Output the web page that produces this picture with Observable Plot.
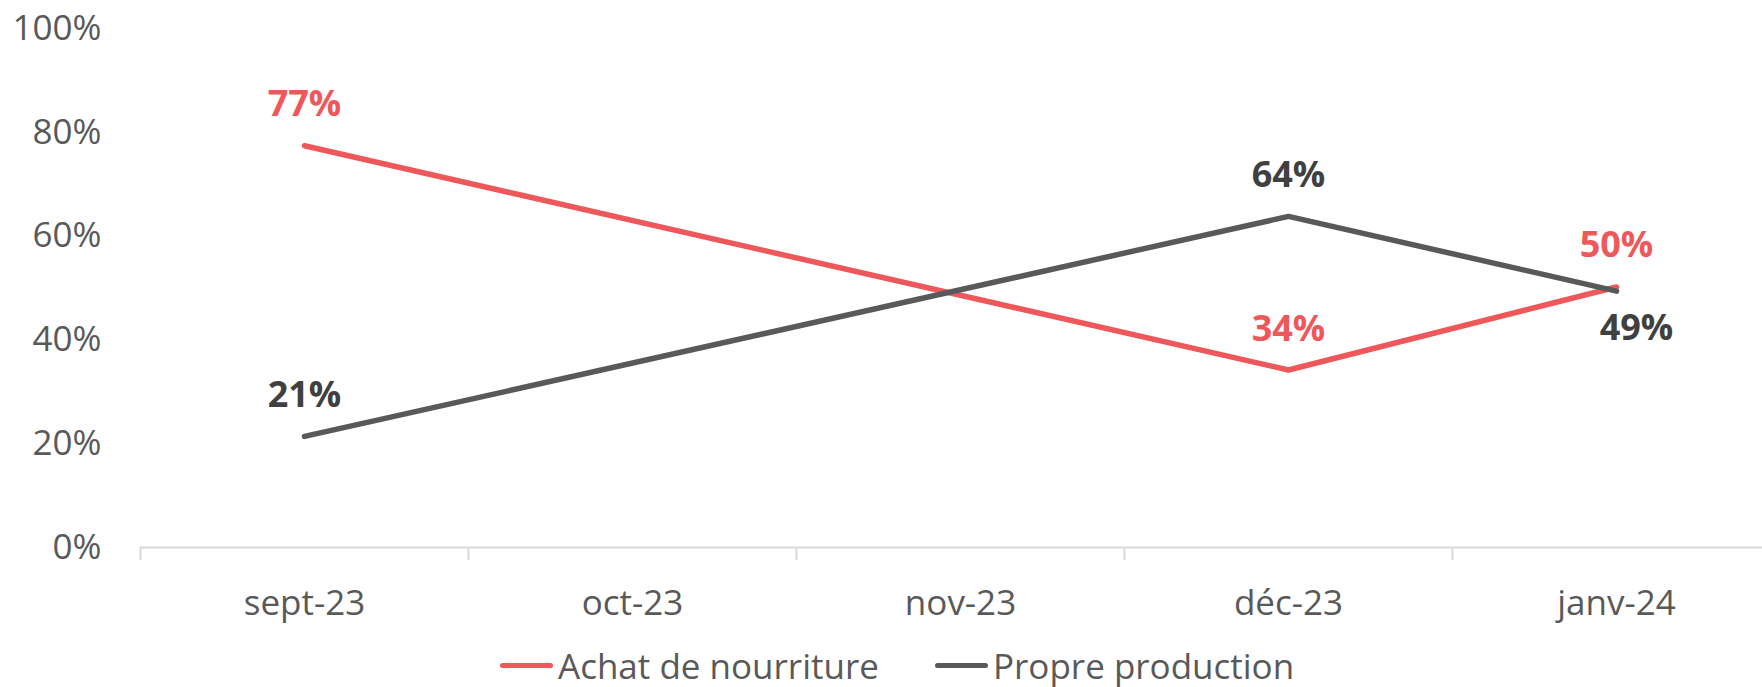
<!DOCTYPE html>
<html>
<head>
<meta charset="utf-8">
<script src="https://cdn.jsdelivr.net/npm/d3@7"></script>
<script src="https://cdn.jsdelivr.net/npm/@observablehq/plot@0.6"></script>
<style>
  html, body { margin: 0; padding: 0; background: #fff; }
  body { width: 1762px; height: 687px; overflow: hidden; font-family: "Open Sans", sans-serif; }
  #legend { position: relative; height: 47px; font-size: 35px; color: #595959; }
  .item { position: absolute; top: 2px; display: flex; align-items: center; height: 47px; }
  .sw { width: 53px; height: 5px; border-radius: 3px; margin-right: 5px; }
</style>
</head>
<body>
<div id="chart"></div>
<div id="legend"></div>
<script>
const months = ["sept-23", "oct-23", "nov-23", "déc-23", "janv-24"];
const achat = [0.774, null, null, 0.342, 0.502];
const propre = [0.214, null, null, 0.638, 0.494];
const seriesNames = ["Achat de nourriture", "Propre production"];
const colors = ["#EF585A", "#59595B"];
const labelColors = ["#EF585A", "#404040"];
const yTicks = [0, 0.2, 0.4, 0.6, 0.8, 1];

const rows = [];
[achat, propre].forEach((vals, s) => {
  vals.forEach((v, i) => {
    if (v != null) rows.push({month: months[i], value: v, series: seriesNames[s], s, i});
  });
});

const W = 1762, H = 640;
const xRange = [140, 1780];
const bw = (xRange[1] - xRange[0]) / months.length;

// label placement: above except last grey point (below, slightly right)
const isBelow = d => d.s === 1 && d.i === 4;
const pct = d3.format(".0%");

const labelMarks = [];
[0, 1].forEach(s => {
  const above = rows.filter(d => d.s === s && !isBelow(d));
  const below = rows.filter(d => d.s === s && isBelow(d));
  const common = {x: "month", y: "value", text: d => pct(d.value), fill: labelColors[s], fontSize: 36, fontWeight: "bold"};
  if (above.length) labelMarks.push(Plot.text(above, {...common, dy: -41}));
  if (below.length) labelMarks.push(Plot.text(below, {...common, dy: 37, dx: 20}));
});

const plot = Plot.plot({
  width: W,
  height: H,
  marginLeft: 140,
  marginRight: 0,
  marginTop: 28,
  marginBottom: 93,
  style: {fontFamily: "'Open Sans', sans-serif", background: "#fff", overflow: "hidden"},
  x: {type: "band", domain: months, range: xRange, padding: 0},
  y: {domain: [0, 1]},
  color: {domain: seriesNames, range: colors},
  marks: [
    Plot.ruleY([0], {stroke: "#D9D9D9", strokeWidth: 2}),
    Plot.ruleX(months, {x: d => d, y1: 0, y2: 0, dx: -bw / 2, insetBottom: -13, stroke: "#D9D9D9", strokeWidth: 2}),
    Plot.axisY({ticks: yTicks, tickFormat: pct, tickSize: 0, tickPadding: 39, fontSize: 35, color: "#595959", label: null}),
    Plot.axisX({tickSize: 0, tickPadding: 43, fontSize: 35, color: "#595959", label: null}),
    Plot.line(rows, {x: "month", y: "value", z: "series", stroke: "series", strokeWidth: 5.5, strokeLinecap: "round", strokeLinejoin: "miter"}),
    ...labelMarks
  ]
});
document.getElementById("chart").appendChild(plot);

const legend = document.getElementById("legend");
const legendX = [500, 935];
seriesNames.forEach((name, s) => {
  const it = document.createElement("div");
  it.className = "item";
  it.style.left = legendX[s] + "px";
  const sw = document.createElement("div");
  sw.className = "sw";
  sw.style.background = colors[s];
  const t = document.createElement("span");
  t.textContent = name;
  it.appendChild(sw); it.appendChild(t);
  legend.appendChild(it);
});
</script>
</body>
</html>
